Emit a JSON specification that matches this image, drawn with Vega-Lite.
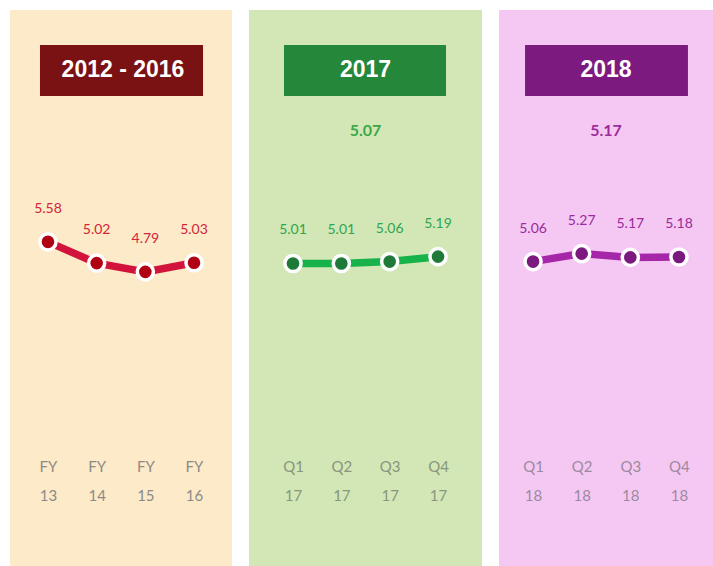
{
  "$schema": "https://vega.github.io/schema/vega-lite/v6.json",
  "padding": {"left": 10, "top": 10, "right": 0, "bottom": 0},
  "background": "white",
  "config": {
    "view": {"stroke": null},
    "concat": {"spacing": 17},
    "axisX": {"title": null, "orient": "bottom", "offset": -107, "domain": false, "ticks": false, "labelAngle": 0,
              "labelLineHeight": 29, "labelFontSize": 15, "labelFont": "Lato", "labelPadding": 0}
  },
  "datasets": {
    "p1": [
      {"period": "FY 13", "value": 5.58},
      {"period": "FY 14", "value": 5.02},
      {"period": "FY 15", "value": 4.79},
      {"period": "FY 16", "value": 5.03}
    ],
    "p2": [
      {"period": "Q1 17", "value": 5.01},
      {"period": "Q2 17", "value": 5.01},
      {"period": "Q3 17", "value": 5.06},
      {"period": "Q4 17", "value": 5.19}
    ],
    "p3": [
      {"period": "Q1 18", "value": 5.06},
      {"period": "Q2 18", "value": 5.27},
      {"period": "Q3 18", "value": 5.17},
      {"period": "Q4 18", "value": 5.18}
    ],
    "h1": [{"title": "2012 - 2016", "first": "FY 13", "last": "FY 16"}],
    "h2": [{"title": "2017", "first": "Q1 17", "last": "Q4 17", "avg": 5.07}],
    "h3": [{"title": "2018", "first": "Q1 18", "last": "Q4 18", "avg": 5.17}]
  },
  "hconcat": [
    {
      "width": 222,
      "height": 556,
      "view": {"fill": "#fdeac9", "stroke": null},
      "layer": [
        {
          "data": {"name": "h1"},
          "mark": {"type": "rect", "color": "#7a1214", "xOffset": -8, "x2Offset": 9},
          "encoding": {
            "x": {"field": "first", "type": "ordinal", "scale": {"type": "point", "padding": 0.78, "domain": ["FY 13", "FY 14", "FY 15", "FY 16"]}, "axis": {"labelExpr": "split(datum.label, ' ')", "labelColor": "#8c8a86"}},
            "x2": {"field": "last"},
            "y": {"datum": 10.76, "type": "quantitative", "scale": {"domain": [-2.95, 11.68], "nice": false, "zero": false}, "axis": null},
            "y2": {"datum": 9.42}
          }
        },
        {
          "data": {"name": "h1"},
          "mark": {"type": "text", "color": "white", "font": "Liberation Sans", "fontWeight": "bold", "fontSize": 23, "dx": 2},
          "encoding": {"y": {"datum": 10.09, "type": "quantitative"}, "text": {"field": "title"}}
        },
        {
          "data": {"name": "p1"},
          "encoding": {
            "x": {"field": "period", "type": "ordinal"},
            "y": {"field": "value", "type": "quantitative"}
          },
          "layer": [
            {"mark": {"type": "line", "color": "#d2143c", "strokeWidth": 7.5}},
            {"mark": {"type": "point", "filled": true, "color": "#b00012", "size": 260, "stroke": "white", "strokeWidth": 3.5, "opacity": 1}},
            {"mark": {"type": "text", "color": "#d0253a", "font": "Lato", "fontSize": 14, "dy": -33},
             "encoding": {"text": {"field": "value", "format": ".2f"}}}
          ]
        }
      ]
    },
    {
      "width": 233,
      "height": 556,
      "view": {"fill": "#d3e6b6", "stroke": null},
      "layer": [
        {
          "data": {"name": "h2"},
          "mark": {"type": "rect", "color": "#25873a", "xOffset": -9, "x2Offset": 8},
          "encoding": {
            "x": {"field": "first", "type": "ordinal", "scale": {"type": "point", "padding": 0.91, "domain": ["Q1 17", "Q2 17", "Q3 17", "Q4 17"]}, "axis": {"labelExpr": "split(datum.label, ' ')", "labelColor": "#87967c"}},
            "x2": {"field": "last"},
            "y": {"datum": 10.76, "type": "quantitative", "scale": {"domain": [-2.95, 11.68], "nice": false, "zero": false}, "axis": null},
            "y2": {"datum": 9.42}
          }
        },
        {
          "data": {"name": "h2"},
          "mark": {"type": "text", "color": "white", "font": "Liberation Sans", "fontWeight": "bold", "fontSize": 23},
          "encoding": {"y": {"datum": 10.09, "type": "quantitative"}, "text": {"field": "title"}}
        },
        {
          "data": {"name": "h2"},
          "mark": {"type": "text", "color": "#3aa846", "font": "Lato", "fontWeight": "bold", "fontSize": 16},
          "encoding": {"y": {"datum": 8.5, "type": "quantitative"}, "text": {"field": "avg", "format": ".2f"}}
        },
        {
          "data": {"name": "p2"},
          "encoding": {
            "x": {"field": "period", "type": "ordinal"},
            "y": {"field": "value", "type": "quantitative"}
          },
          "layer": [
            {"mark": {"type": "line", "color": "#18b24a", "strokeWidth": 7.5}},
            {"mark": {"type": "point", "filled": true, "color": "#1f7a3a", "size": 260, "stroke": "white", "strokeWidth": 3.5, "opacity": 1}},
            {"mark": {"type": "text", "color": "#2ea64e", "font": "Lato", "fontSize": 14, "dy": -33},
             "encoding": {"text": {"field": "value", "format": ".2f"}}}
          ]
        }
      ]
    },
    {
      "width": 214,
      "height": 556,
      "view": {"fill": "#f5c8f3", "stroke": null},
      "layer": [
        {
          "data": {"name": "h3"},
          "mark": {"type": "rect", "color": "#7d1a80", "xOffset": -8, "x2Offset": 9},
          "encoding": {
            "x": {"field": "first", "type": "ordinal", "scale": {"type": "point", "padding": 0.7, "domain": ["Q1 18", "Q2 18", "Q3 18", "Q4 18"]}, "axis": {"labelExpr": "split(datum.label, ' ')", "labelColor": "#9c8a9e"}},
            "x2": {"field": "last"},
            "y": {"datum": 10.76, "type": "quantitative", "scale": {"domain": [-2.95, 11.68], "nice": false, "zero": false}, "axis": null},
            "y2": {"datum": 9.42}
          }
        },
        {
          "data": {"name": "h3"},
          "mark": {"type": "text", "color": "white", "font": "Liberation Sans", "fontWeight": "bold", "fontSize": 23},
          "encoding": {"y": {"datum": 10.09, "type": "quantitative"}, "text": {"field": "title"}}
        },
        {
          "data": {"name": "h3"},
          "mark": {"type": "text", "color": "#9b2d9c", "font": "Lato", "fontWeight": "bold", "fontSize": 16},
          "encoding": {"y": {"datum": 8.5, "type": "quantitative"}, "text": {"field": "avg", "format": ".2f"}}
        },
        {
          "data": {"name": "p3"},
          "encoding": {
            "x": {"field": "period", "type": "ordinal"},
            "y": {"field": "value", "type": "quantitative"}
          },
          "layer": [
            {"mark": {"type": "line", "color": "#a526a8", "strokeWidth": 7.5}},
            {"mark": {"type": "point", "filled": true, "color": "#7b1a7e", "size": 260, "stroke": "white", "strokeWidth": 3.5, "opacity": 1}},
            {"mark": {"type": "text", "color": "#9a2a9c", "font": "Lato", "fontSize": 14, "dy": -33},
             "encoding": {"text": {"field": "value", "format": ".2f"}}}
          ]
        }
      ]
    }
  ]
}
